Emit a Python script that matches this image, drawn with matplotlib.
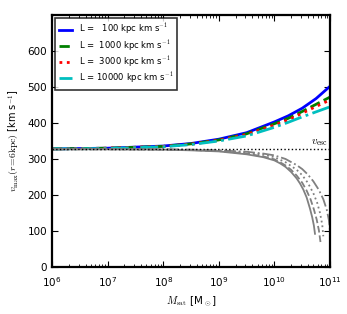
import numpy as np
import matplotlib
matplotlib.use("Agg")
import matplotlib.pyplot as plt

# satellite mass grid (log10 Msun) for the rising curves
logm_up = [6.0, 7.0, 8.0, 8.5, 9.0, 9.5, 10.0, 10.25, 10.5, 10.75, 11.0]
v_l100 = [328, 330, 336, 343, 355, 373, 403, 420, 441, 468, 502]
v_l1000 = [328, 330, 335, 342, 353, 370, 398, 413, 432, 452, 472]
v_l3000 = [328, 330, 335, 341, 352, 368, 394, 409, 427, 446, 464]
v_l10000 = [328, 329, 334, 340, 350, 364, 388, 402, 417, 431, 445]

# falling (grey) curves
logm_dn1 = [6.0, 7.0, 8.0, 8.5, 9.0, 9.5, 9.8, 10.0, 10.1, 10.2, 10.3, 10.4, 10.46,
            10.52, 10.58, 10.64, 10.68, 10.71, 10.73]
v_dn100 = [327, 327, 326, 324, 321, 313, 305, 296, 288, 278, 264, 246, 232,
           215, 193, 162, 138, 115, 92]
logm_dn2 = [6.0, 7.0, 8.0, 8.5, 9.0, 9.5, 9.8, 10.0, 10.1, 10.2, 10.3, 10.4, 10.5,
            10.58, 10.65, 10.71, 10.76, 10.80, 10.83]
v_dn1000 = [327, 327, 326, 325, 322, 315, 307, 299, 291, 282, 270, 254, 234,
            212, 188, 160, 132, 102, 68]
logm_dn3 = [6.0, 7.0, 8.0, 8.5, 9.0, 9.5, 9.8, 10.0, 10.2, 10.4, 10.5, 10.6,
            10.7, 10.77, 10.82, 10.86, 10.88]
v_dn3000 = [327, 327, 326, 325, 323, 318, 312, 305, 291, 270, 255, 234,
            205, 178, 150, 118, 85]
logm_dn4 = [6.0, 7.0, 8.0, 8.5, 9.0, 9.5, 9.8, 10.0, 10.2, 10.4, 10.5, 10.6,
            10.7, 10.8, 10.88, 10.94, 10.98, 11.0]
v_dn10000 = [327, 327, 327, 326, 324, 320, 315, 310, 300, 283, 272, 257,
             238, 214, 188, 160, 130, 100]

v_esc = 327
labels = ["L =   100 kpc km s$^{-1}$", "L =  1000 kpc km s$^{-1}$",
          "L =  3000 kpc km s$^{-1}$", "L = 10000 kpc km s$^{-1}$"]

plt.rcParams["xtick.direction"] = "in"
plt.rcParams["ytick.direction"] = "in"
plt.rcParams["mathtext.fontset"] = "cm"

fig = plt.figure(figsize=(3.47, 3.14), dpi=100)
ax = fig.add_axes([0.150, 0.150, 0.801, 0.802])

up = [v_l100, v_l1000, v_l3000, v_l10000]
cols = ["blue", "green", "red", "c"]
styles = ["-", "--", ":", "-."]
for v, c, s, lab in zip(up, cols, styles, labels):
    ax.plot(10 ** np.array(logm_up), v, color=c, ls=s, lw=2, label=lab)

dn = [(logm_dn1, v_dn100), (logm_dn2, v_dn1000), (logm_dn3, v_dn3000), (logm_dn4, v_dn10000)]
for (lm, v), s in zip(dn, styles):
    ax.plot(10 ** np.array(lm), v, color="grey", ls=s, lw=1.3)

ax.axhline(v_esc, color="k", ls=":", lw=1)
ax.text(6.6e10, v_esc + 4, r"$v_{\rm esc}$", fontsize=8, ha="center", va="bottom")

ax.set_xscale("log")
ax.set_xlim(1e6, 1e11)
ax.set_ylim(0, 700)
ax.set_yticks([0, 100, 200, 300, 400, 500, 600])
ax.tick_params(which="both", top=True, right=True, labelsize=7.5)
ax.tick_params(axis="x", which="major", pad=6)
ax.tick_params(which="major", length=4)
ax.tick_params(which="minor", length=2)
for sp in ax.spines.values():
    sp.set_linewidth(1.6)

ax.set_xlabel(r"$M_{\rm sat}$ [M$_\odot$]", fontsize=7.5)
ax.set_ylabel(r"$v_{\rm max}(r\!=\!6{\rm kpc})$ [km s$^{-1}$]", fontsize=7)

leg = ax.legend(loc="upper left", fontsize=6.1, handlelength=1.5, frameon=True,
                fancybox=False, borderpad=0.45, labelspacing=0.15,
                borderaxespad=0.4)
leg.get_frame().set_edgecolor("k")
leg.get_frame().set_linewidth(1.2)

fig.savefig("out.png", dpi=100)
